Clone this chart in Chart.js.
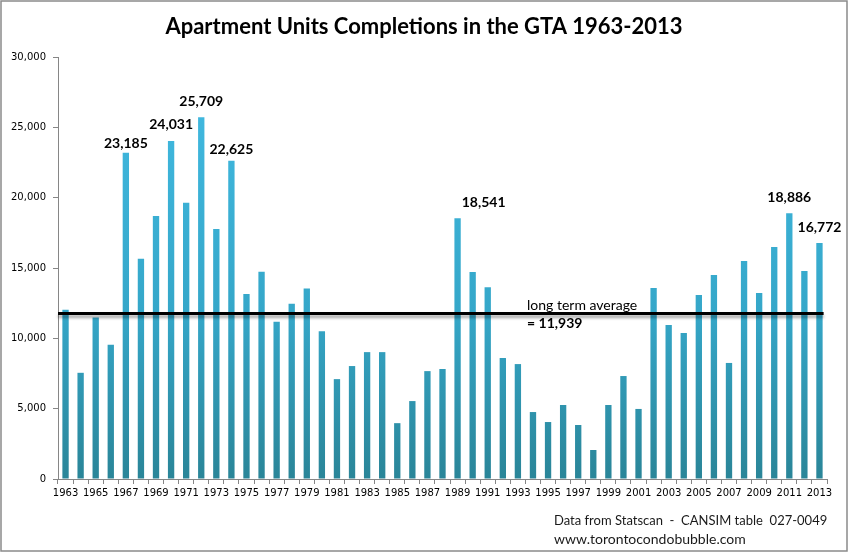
<!DOCTYPE html>
<html>
<head>
<meta charset="utf-8">
<title>Apartment Units Completions in the GTA 1963-2013</title>
<script src="https://cdn.jsdelivr.net/npm/chart.js@4.4.1/dist/chart.umd.min.js"></script>
<style>
    body { margin: 0; background: #fff; }
    #chart { display: block; }
</style>
</head>
<body>
<canvas id="chart" width="849" height="553" role="img" aria-label="Apartment Units Completions in the GTA 1963-2013"></canvas>
<script>

const years = [];
for (let y = 1963; y <= 2013; y++) years.push(String(y));

const completions = [
    12030, 7550, 11480, 9540, 23185, 15650, 18700, 24031, 19630, 25709,
    17780, 22625, 13160, 14730, 11180, 12450, 13550, 10500, 7100, 8030,
    9020, 9020, 3970, 5540, 7670, 7820, 18541, 14710, 13640, 8600,
    8170, 4760, 4050, 5260, 3840, 2060, 5260, 7320, 4980, 13570,
    10950, 10380, 13080, 14500, 8250, 15500, 13220, 16490, 18886, 14790,
    16772
];

// years that carry a value label in the picture
const labelledYears = ["1967", "1970", "1972", "1974", "1989", "2011", "2013"];

// drawn level of the black line (a bit under the stated 11,939)
const averageLine = 11760;
const averageText = ["long term average", "= 11,939"];

const yTicks = [0, 5000, 10000, 15000, 20000, 25000, 30000];

const titleText = "Apartment Units Completions in the GTA 1963-2013";
const sourceText = ["Data from Statscan  -  CANSIM table  027-0049", "www.torontocondobubble.com"];


/* ================= PLUGINS ================= */

const frame = {
    id: "frame",
    beforeDraw(chart) {
        const ctx = chart.ctx;
        ctx.save();
        ctx.fillStyle = "#fff";
        ctx.fillRect(0, 0, chart.width, chart.height);
        ctx.strokeStyle = "#8a8a8a";
        ctx.lineWidth = 1.5;
        ctx.strokeRect(1, 1, chart.width - 3, chart.height - 3);
        ctx.restore();
    },
    afterDraw(chart) {
        const ctx = chart.ctx;
        ctx.save();
        ctx.fillStyle = "#000";
        ctx.textAlign = "center";
        ctx.textBaseline = "middle";
        ctx.font = "bold 22px Lato";
        ctx.fillText(titleText, 424, 27);

        ctx.textAlign = "left";
        ctx.font = "13px Lato";
        ctx.fillStyle = "#1a1a1a";
        ctx.fillText(sourceText[0], 554, 521);
        ctx.font = "14px Lato";
        ctx.fillText(sourceText[1], 554, 539);
        ctx.restore();
    }
};

const averagePlugin = {
    id: "averagePlugin",
    afterDatasetsDraw(chart) {
        const ctx = chart.ctx;
        const area = chart.chartArea;
        const y = chart.scales.y.getPixelForValue(averageLine);
        const meta = chart.getDatasetMeta(0);
        const last = meta.data[meta.data.length - 1];

        ctx.save();
        ctx.shadowColor = "rgba(0,0,0,0.35)";
        ctx.shadowOffsetY = 3;
        ctx.shadowBlur = 3;
        ctx.strokeStyle = "#000";
        ctx.lineWidth = 3;
        ctx.beginPath();
        ctx.moveTo(area.left, y);
        ctx.lineTo(last.x + last.width / 2 + 1, y);
        ctx.stroke();
        ctx.restore();

        ctx.save();
        ctx.fillStyle = "#000";
        ctx.textAlign = "left";
        ctx.textBaseline = "middle";
        ctx.font = "14px Lato";
        ctx.fillText(averageText[0], 527, y - 8);
        ctx.font = "bold 14px Lato";
        ctx.fillText(averageText[1], 527, y + 10);
        ctx.restore();
    }
};

const valueLabels = {
    id: "valueLabels",
    afterDatasetsDraw(chart) {
        const ctx = chart.ctx;
        const meta = chart.getDatasetMeta(0);
        // hand placed labels in the original
        const nudge = { "1967": [0, 7], "1974": [0, 5], "1989": [26, 0] };

        ctx.save();
        ctx.fillStyle = "#000";
        ctx.textAlign = "center";
        ctx.textBaseline = "middle";
        ctx.font = "bold 14px Lato";
        labelledYears.forEach(yr => {
            const i = years.indexOf(yr);
            const bar = meta.data[i];
            const n = nudge[yr] || [0, 0];
            const txt = completions[i].toLocaleString("en-US");
            ctx.fillText(txt, bar.x + n[0], bar.y - 16 + n[1]);
        });
        ctx.restore();
    }
};


/* ================= CHART ================= */

const canvas = document.getElementById("chart");

new Chart(canvas, {
    type: "bar",
    data: {
        labels: years,
        datasets: [{
            label: "Apartment units completed",
            data: completions,
            backgroundColor(c) {
                const area = c.chart.chartArea;
                if (!area) return "#38a9cc";
                const g = c.chart.ctx.createLinearGradient(0, area.top, 0, area.bottom);
                g.addColorStop(0, "#43bce4");
                g.addColorStop(0.6, "#35a7c9");
                g.addColorStop(1, "#2a8598");
                return g;
            },
            borderWidth: 0,
            barPercentage: 0.42,
            categoryPercentage: 1
        }]
    },
    options: {
        responsive: false,
        animation: false,
        devicePixelRatio: 1,
        layout: { padding: { top: 57, right: 22, bottom: 44, left: 0 } },
        plugins: {
            legend: { display: false },
            title: { display: false },
            tooltip: { enabled: false }
        },
        scales: {
            x: {
                offset: true,
                afterFit(s) { s.height = 30; },
                grid: {
                    offset: true,
                    drawOnChartArea: false,
                    tickLength: 5,
                    color: "#868686"
                },
                border: { color: "#868686", width: 1 },
                ticks: {
                    autoSkip: false,
                    maxRotation: 0,
                    padding: 3,
                    color: "#000",
                    font: { family: "DejaVu Sans", size: 10 },
                    callback(v, i) { return i % 2 === 0 ? years[i] : ""; }
                }
            },
            y: {
                min: yTicks[0],
                max: yTicks[yTicks.length - 1],
                afterFit(s) { s.width = 58; },
                afterBuildTicks(s) { s.ticks = yTicks.map(v => ({ value: v })); },
                grid: {
                    drawOnChartArea: false,
                    tickLength: 5,
                    color: "#868686"
                },
                border: { color: "#868686", width: 1 },
                ticks: {
                    padding: 7,
                    color: "#000",
                    font: { family: "DejaVu Sans", size: 10 },
                    callback(v) { return v.toLocaleString("en-US"); }
                }
            }
        }
    },
    plugins: [frame, averagePlugin, valueLabels]
});
</script>
</body>
</html>
